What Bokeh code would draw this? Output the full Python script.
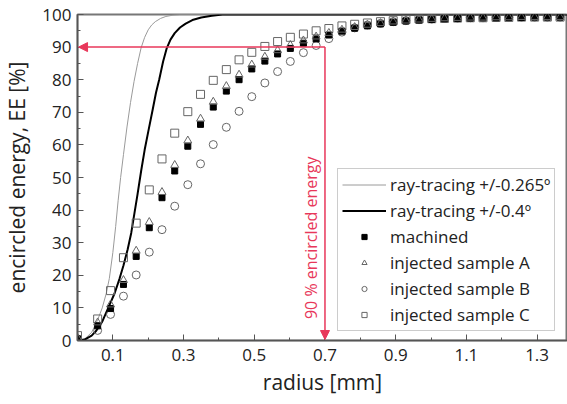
from bokeh.plotting import figure
from bokeh.models import (ColumnDataSource, Range1d, FixedTicker, Legend, LegendItem,
                          Arrow, NormalHead)
from bokeh.core.properties import value
from bokeh.embed import file_html
from bokeh.resources import INLINE

# ---- data ----
radius = [0.0, 0.057, 0.0935, 0.130, 0.166, 0.203, 0.239, 0.275, 0.312, 0.348, 0.384,
          0.421, 0.457, 0.493, 0.530, 0.566, 0.602, 0.639, 0.675, 0.711, 0.748, 0.784,
          0.820, 0.857, 0.893, 0.929, 0.966, 1.002, 1.038, 1.075, 1.111, 1.147, 1.184,
          1.220, 1.256, 1.293, 1.329, 1.365]
machined = [0.5, 4.5, 9.8, 17.2, 25.8, 34.6, 43.8, 52.0, 59.6, 66.3, 71.6, 76.5, 80.0,
            83.3, 85.7, 87.9, 89.6, 91.2, 92.5, 93.7, 94.9, 95.8, 96.5, 97.1, 97.6, 98.0,
            98.3, 98.5, 98.7, 98.8, 98.9, 99.0, 99.0, 99.1, 99.1, 99.2, 99.2, 99.2]
sample_a = [0.8, 5.5, 11.0, 18.5, 27.5, 36.3, 45.5, 53.8, 61.3, 68.0, 73.2, 78.0, 81.5,
            84.6, 87.0, 89.0, 90.6, 92.0, 93.2, 94.3, 95.3, 96.1, 96.8, 97.3, 97.8, 98.1,
            98.4, 98.6, 98.8, 98.9, 99.0, 99.0, 99.1, 99.1, 99.2, 99.2, 99.2, 99.2]
sample_b = [0.5, 3.1, 8.0, 13.6, 20.1, 27.1, 34.0, 41.2, 47.8, 54.2, 60.1, 65.4, 70.3,
            74.8, 79.0, 82.5, 85.6, 88.3, 90.5, 92.6, 94.6, 95.9, 96.8, 97.3, 97.8, 98.1,
            98.4, 98.6, 98.8, 98.9, 99.0, 99.0, 99.1, 99.1, 99.2, 99.2, 99.2, 99.2]
sample_c = [1.5, 6.6, 15.3, 25.4, 36.0, 46.2, 55.7, 63.6, 70.2, 75.5, 79.8, 83.1, 86.1,
            88.4, 90.2, 91.7, 93.0, 94.0, 95.0, 95.7, 96.5, 97.0, 97.4, 97.8, 98.1, 98.4,
            98.6, 98.7, 98.8, 98.9, 99.0, 99.0, 99.1, 99.1, 99.2, 99.2, 99.2, 99.2]

rt_thin_r = [0.0, 0.02, 0.04, 0.058, 0.07, 0.081, 0.09, 0.1, 0.108, 0.115, 0.122, 0.13,
             0.14, 0.15, 0.16, 0.17, 0.18, 0.19, 0.2, 0.21, 0.22, 0.235, 0.25, 0.27, 0.29,
             1.39]
rt_thin_ee = [0.0, 0.4, 2.5, 6.6, 10.0, 14.3, 19.0, 27.0, 35.0, 43.0, 50.0, 57.0, 65.5,
              73.0, 79.5, 85.0, 89.8, 93.0, 95.3, 96.8, 97.8, 98.8, 99.4, 99.8, 100.0,
              100.0]
rt_thick_r = [0.0, 0.02, 0.04, 0.053, 0.07, 0.091, 0.105, 0.119, 0.13, 0.142, 0.152,
              0.161, 0.17, 0.18, 0.19, 0.2, 0.213, 0.222, 0.231, 0.242, 0.252, 0.263,
              0.275, 0.29, 0.306, 0.325, 0.35, 0.38, 0.41, 1.39]
rt_thick_ee = [0.0, 0.3, 1.5, 3.0, 5.8, 11.0, 14.5, 19.0, 23.0, 28.0, 33.0, 39.0, 45.0,
               52.0, 58.5, 64.0, 71.0, 76.0, 80.0, 85.5, 89.5, 92.3, 94.3, 96.0, 97.2,
               98.3, 99.1, 99.6, 100.0, 100.0]

x_major = [0.1, 0.3, 0.5, 0.7, 0.9, 1.1, 1.3]
x_minor = [0.2, 0.4, 0.6, 0.8, 1.0, 1.2]
y_major = [0, 10, 20, 30, 40, 50, 60, 70, 80, 90, 100]
y_minor = [5, 15, 25, 35, 45, 55, 65, 75, 85, 95]

FONT = "Open Sans"
RED = "#e8375a"
GREY = "#666666"

p = figure(width=567, height=404, output_backend="svg", toolbar_location=None,
           x_range=Range1d(0, 1.386), y_range=Range1d(0, 100),
           min_border_left=75, min_border_right=0, min_border_top=14, min_border_bottom=64)
p.background_fill_color = "white"
p.border_fill_color = "white"
p.grid.visible = False
p.outline_line_color = "#777777"
p.outline_line_width = 2

for ax in (p.xaxis, p.yaxis):
    ax.axis_line_color = "#555555"
    ax.axis_line_width = 1.5
    ax.major_tick_in = 6
    ax.major_tick_out = 0
    ax.minor_tick_in = 3
    ax.minor_tick_out = 0
    ax.major_tick_line_color = "#555555"
    ax.minor_tick_line_color = "#555555"
    ax.major_label_text_font = FONT
    ax.major_label_text_font_size = "17px"
    ax.major_label_text_color = "#222222"
    ax.axis_label_text_font = FONT
    ax.axis_label_text_font_size = "21px"
    ax.axis_label_text_font_style = "normal"
    ax.axis_label_text_color = "#222222"

p.xaxis.ticker = FixedTicker(ticks=x_major, minor_ticks=x_minor)
p.yaxis.ticker = FixedTicker(ticks=y_major, minor_ticks=y_minor)
p.xaxis.axis_label = "radius [mm]"
p.yaxis.axis_label = "encircled energy, EE [%]"
p.xaxis.major_label_standoff = 8
p.yaxis.major_label_standoff = 6
p.xaxis.axis_label_standoff = 4
p.yaxis.axis_label_standoff = 8

r_thin = p.line(rt_thin_r, rt_thin_ee, line_color="#9a9a9a", line_width=1)
r_thick = p.line(rt_thick_r, rt_thick_ee, line_color="black", line_width=2)

src = ColumnDataSource(dict(r=radius, m=machined, a=sample_a, b=sample_b, c=sample_c))
r_c = p.scatter("r", "c", source=src, marker="square", size=8, fill_alpha=0,
                line_color=GREY, line_width=1)
r_b = p.scatter("r", "b", source=src, marker="circle", size=8, fill_alpha=0,
                line_color=GREY, line_width=1)
r_m = p.scatter("r", "m", source=src, marker="square", size=6, fill_color="black",
                line_color="black", line_width=1)
r_a = p.scatter("r", "a", source=src, marker="triangle", size=8, fill_alpha=0,
                line_color=GREY, line_width=1)

# 90 % encircled energy guide
p.add_layout(Arrow(x_start=0.7, y_start=90, x_end=0.003, y_end=90, line_color=RED,
                   line_width=1.5,
                   end=NormalHead(size=9, fill_color=RED, line_color=RED)))
p.add_layout(Arrow(x_start=0.7, y_start=90, x_end=0.7, y_end=0.3, line_color=RED,
                   line_width=1.5,
                   end=NormalHead(size=9, fill_color=RED, line_color=RED)))
p.text(x=[0.66], y=[31.5], text=["90 % encircled energy"], angle=1.5708,
       text_font=value(FONT), text_font_size="16px", text_color=RED,
       text_align="center", text_baseline="middle")

legend = Legend(items=[
    LegendItem(label="ray-tracing +/-0.265º", renderers=[r_thin]),
    LegendItem(label="ray-tracing +/-0.4º", renderers=[r_thick]),
    LegendItem(label="machined", renderers=[r_m]),
    LegendItem(label="injected sample A", renderers=[r_a]),
    LegendItem(label="injected sample B", renderers=[r_b]),
    LegendItem(label="injected sample C", renderers=[r_c]),
], location=(260, 9))
legend.label_text_font = FONT
legend.label_text_font_size = "17px"
legend.label_text_color = "#222222"
legend.glyph_width = 44
legend.glyph_height = 13
legend.label_height = 20
legend.spacing = 3
legend.padding = 4
legend.margin = 0
legend.label_standoff = 4
legend.border_line_color = "#999999"
legend.border_line_width = 1
legend.background_fill_color = "white"
legend.background_fill_alpha = 1
p.add_layout(legend)

open("out.html", "w").write(file_html(p, INLINE))
